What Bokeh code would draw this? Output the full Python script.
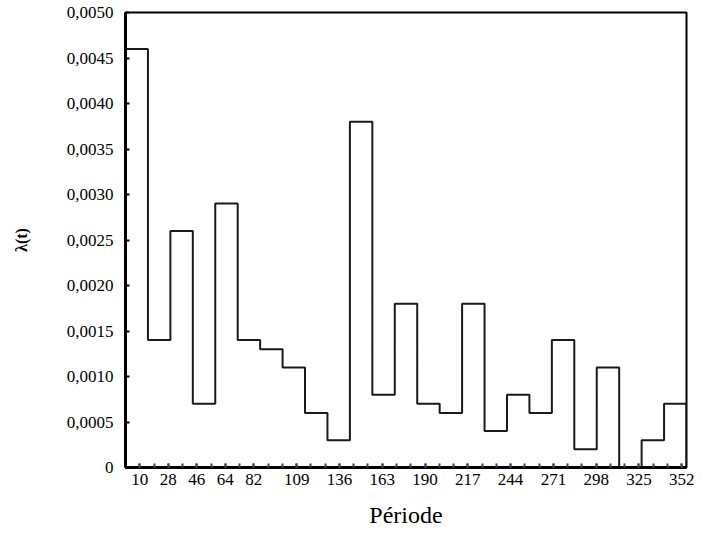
from bokeh.plotting import figure
from bokeh.models import Range1d, FixedTicker, CustomJSTickFormatter
from bokeh.embed import file_html
from bokeh.resources import INLINE

# ---- data ----
x_start = 1.0
x_end = 355.0
hazard = [0.0046, 0.0014, 0.0026, 0.0007, 0.0029, 0.0014, 0.0013, 0.0011, 0.0006,
          0.0003, 0.0038, 0.0008, 0.0018, 0.0007, 0.0006, 0.0018, 0.0004, 0.0008,
          0.0006, 0.0014, 0.0002, 0.0011, 0.0000, 0.0003, 0.0007]
x_tick_labels = [10, 28, 46, 64, 82, 109, 136, 163, 190, 217, 244, 271, 298, 325, 352]
minor_step = 9
y_ticks = [0, 0.0005, 0.0010, 0.0015, 0.0020, 0.0025, 0.0030, 0.0035, 0.0040, 0.0045, 0.0050]
x_title = "Période"
y_title = "λ(t)"

n = len(hazard)
w = (x_end - x_start) / n
edges = [x_start + i * w for i in range(n + 1)]
xs = [edges[0]]
ys = [0.0]
for i, v in enumerate(hazard):
    xs += [edges[i], edges[i + 1]]
    ys += [v, v]
xs.append(edges[-1])
ys.append(0.0)

FONT = "Liberation Serif"

p = figure(width=697, height=536, output_backend="svg", toolbar_location=None,
           x_range=Range1d(x_start, x_end), y_range=Range1d(0, 0.005),
           min_border_left=125, min_border_right=11, min_border_top=12, min_border_bottom=69)

p.line(xs, ys, line_color="#1a1a1a", line_width=2)

p.xgrid.visible = False
p.ygrid.visible = False
p.outline_line_color = "black"
p.outline_line_width = 2
p.background_fill_color = "white"
p.border_fill_color = "white"

xa = p.xaxis[0]
xa.ticker = FixedTicker(ticks=x_tick_labels,
                        minor_ticks=list(range(int(x_start), int(x_end) + 1, minor_step)))
xa.axis_line_color = "black"
xa.axis_line_width = 3
xa.major_tick_in = 4
xa.major_tick_out = 0
xa.minor_tick_in = 4
xa.minor_tick_out = 0
xa.major_tick_line_width = 2
xa.minor_tick_line_width = 2
xa.major_tick_line_color = "#444444"
xa.minor_tick_line_color = "#444444"
xa.major_label_text_font = FONT
xa.major_label_text_font_size = "17px"
xa.major_label_text_color = "black"
xa.major_label_standoff = 6
xa.axis_label = x_title
xa.axis_label_text_font = FONT
xa.axis_label_text_font_size = "24px"
xa.axis_label_text_font_style = "normal"
xa.axis_label_text_color = "black"
xa.axis_label_standoff = 14

ya = p.yaxis[0]
ya.ticker = FixedTicker(ticks=y_ticks, minor_ticks=[])
ya.formatter = CustomJSTickFormatter(code="""
    if (Math.abs(tick) < 1e-12) { return "0"; }
    return tick.toFixed(4).replace(".", ",");
""")
ya.axis_line_color = "black"
ya.axis_line_width = 3
ya.major_tick_in = 4
ya.major_tick_out = 0
ya.major_tick_line_width = 2
ya.major_tick_line_color = "black"
ya.minor_tick_in = 0
ya.minor_tick_out = 0
ya.major_label_text_font = FONT
ya.major_label_text_font_size = "17px"
ya.major_label_text_color = "black"
ya.major_label_standoff = 12
ya.axis_label = y_title
ya.axis_label_text_font = FONT
ya.axis_label_text_font_size = "16px"
ya.axis_label_text_font_style = "bold"
ya.axis_label_text_color = "black"
ya.axis_label_standoff = 34

open("out.html", "w").write(file_html(p, INLINE))
